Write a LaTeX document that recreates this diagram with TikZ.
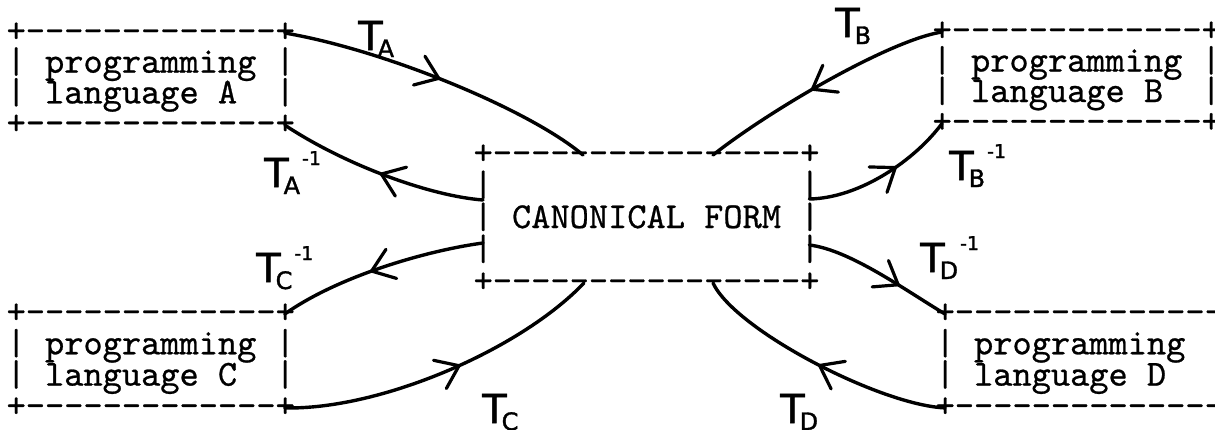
\documentclass[tikz,border=0pt]{standalone}
\usepackage{fontspec}
\setmonofont{lmmono10-regular.otf}[RawFeature={embolden=0.7}]
\newfontfamily\hand{DejaVu Sans}[RawFeature={embolden=1.5}]
\usetikzlibrary{arrows.meta,decorations.markings}

% rows of a typed box, stacked at a fixed line pitch
\newcommand\asciirows[1]{\vtop{\lineskiplimit=-1000pt\lineskip=0pt #1}}
% hand-lettered transformation names
\newcommand\Tsub[1]{T\kern-5pt\raisebox{-7pt}{\fontsize{24pt}{24pt}\selectfont #1}}
\newcommand\Tinv[1]{\Tsub{#1}\kern2pt\raisebox{22pt}{\fontsize{19pt}{19pt}\selectfont -1}}

\begin{document}
\begin{tikzpicture}[x=1pt,y=-1pt,
  ascii/.style={inner sep=0pt, anchor=base west,
    font={\ttfamily\fontsize{36.6pt}{#1}\selectfont}},
  xform/.style={line width=3.4pt, line cap=round, line join=round,
    postaction={decorate},
    decoration={markings, mark=at position #1 with
      {\arrow{Straight Barb[round,length=21pt,width=31pt,line width=3.2pt]}}}},
  tlabel/.style={inner sep=0pt, anchor=base west,
    font={\hand\fontsize{40pt}{40pt}\selectfont}}]
\useasboundingbox (0,0) rectangle (1215,429);

% the five typed boxes
\node[ascii=30.7pt] (A) at (6.4,42) {\asciirows{%
  \hbox{+-------------+}\hbox{|~programming~|}\hbox{|~language~A~~|}\hbox{+-------------+}}};
\node[ascii=30.5pt] (B) at (932.4,41) {\asciirows{%
  \hbox{+-------------+}\hbox{|~programming~|}\hbox{|~language~B~~|}\hbox{+-------------+}}};
\node[ascii=31.3pt] (C) at (6.4,323) {\asciirows{%
  \hbox{+-------------+}\hbox{|~programming~|}\hbox{|~language~C~~|}\hbox{+-------------+}}};
\node[ascii=31.3pt] (D) at (935.4,323) {\asciirows{%
  \hbox{+--------------}\hbox{|~programming}\hbox{|~language~D}\hbox{+--------------}}};
\node[ascii=32pt] (K) at (473.4,164) {\asciirows{%
  \hbox{+----------------+}\hbox{|~~~~~~~~~~~~~~~~|}\hbox{|~CANONICAL~FORM~|}%
  \hbox{|~~~~~~~~~~~~~~~~|}\hbox{+----------------+}}};

% attachment points on the box outlines
\coordinate (A-tr) at (284.8,33);   \coordinate (A-br) at (284.8,125.1);
\coordinate (B-tl) at (942,32);     \coordinate (B-bl) at (942,123.5);
\coordinate (C-tr) at (284.8,314);  \coordinate (C-br) at (284.8,407.9);
\coordinate (D-tl) at (945,314);    \coordinate (D-bl) at (945,407.9);
\coordinate (K-t1) at (583,155);    \coordinate (K-t2) at (713,155);
\coordinate (K-l1) at (483,200);    \coordinate (K-l2) at (483,243);
\coordinate (K-r1) at (809.4,199);  \coordinate (K-r2) at (809.4,245);
\coordinate (K-b1) at (584,283);    \coordinate (K-b2) at (713,283);

% transformations to and from the canonical form
\draw[xform=0.5]  (A-tr) .. controls (385,50) and (530,110) .. (K-t1);
\draw[xform=0.5]  (K-l1) .. controls (430,196) and (345,165) .. (A-br);
\draw[xform=0.55] (B-tl) .. controls (890,40) and (770,110) .. (K-t2);
\draw[xform=0.6]  (K-r1) .. controls (860,198) and (915,160) .. (B-bl);
\draw[xform=0.55] (K-l2) .. controls (430,250) and (340,275) .. (C-tr);
\draw[xform=0.55] (C-br) .. controls (380,410) and (520,350) .. (K-b1);
\draw[xform=0.65] (K-r2) .. controls (850,250) and (905,290) .. (D-tl);
\draw[xform=0.5]  (D-bl) .. controls (880,405) and (735,330) .. (K-b2);

% names of the transformations
\node[tlabel] (lA)  at (358,50)  {\Tsub{A}};
\node[tlabel] (lAi) at (264,187) {\Tinv{A}};
\node[tlabel] (lB)  at (835,37)  {\Tsub{B}};
\node[tlabel] (lBi) at (949,180) {\Tinv{B}};
\node[tlabel] (lCi) at (256,282) {\Tinv{C}};
\node[tlabel] (lC)  at (482,423) {\Tsub{C}};
\node[tlabel] (lDi) at (920,272) {\Tinv{D}};
\node[tlabel] (lD)  at (780,423) {\Tsub{D}};
\end{tikzpicture}
\end{document}
